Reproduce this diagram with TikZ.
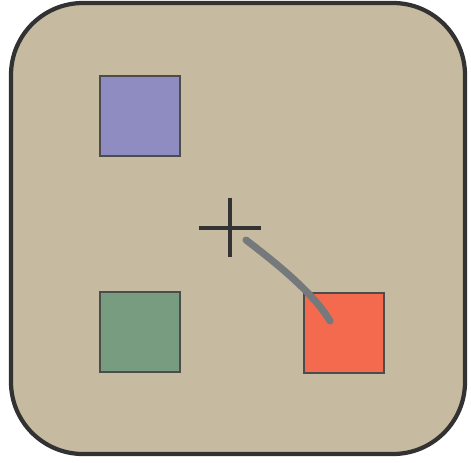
\documentclass[tikz,border=0pt]{standalone}
\usepackage{tikz}
\usetikzlibrary{positioning}
\definecolor{padtan}{HTML}{C6BAA0}
\definecolor{padedge}{HTML}{323232}
\definecolor{tilepurple}{HTML}{8F8CC1}
\definecolor{tilegreen}{HTML}{779C80}
\definecolor{tilered}{HTML}{F36A4E}
\definecolor{strokegray}{HTML}{75797C}
\tikzset{
  pad/.style={draw=padedge, line width=6pt, fill=padtan, rounded corners=3.6cm},
  tile/.style={draw=black!70, line width=1.8pt, minimum size=4cm, inner sep=0pt},
  crosshair/.style={draw=black!80, line width=5pt},
  stroke/.style={draw=strokegray, line width=10pt, line cap=round}
}

\begin{document}
\begin{tikzpicture}[x=0.05cm, y=-0.05cm]
  \useasboundingbox (0,0) rectangle (471,462);
  \path[pad] (11,3) rectangle (465,454);
  \node[tile, fill=tilepurple] (purple) at (140,116) {};
  \node[tile, fill=tilegreen] (green) at (140,332) {};
  \node[tile, fill=tilered] (red) at (344,333) {};
  % cross in the middle
  \coordinate (centre) at (230,228);
  \draw[crosshair] ([xshift=-1.55cm]centre) -- ([xshift=1.55cm]centre);
  \draw[crosshair] ([yshift=1.5cm]centre) -- ([yshift=-1.45cm]centre);
  % drag stroke
  \coordinate (start) at (246,240);
  \coordinate (end) at (330,321);
  \draw[stroke] (start) .. controls (280,266) and (314,294) .. (end);
\end{tikzpicture}
\end{document}
